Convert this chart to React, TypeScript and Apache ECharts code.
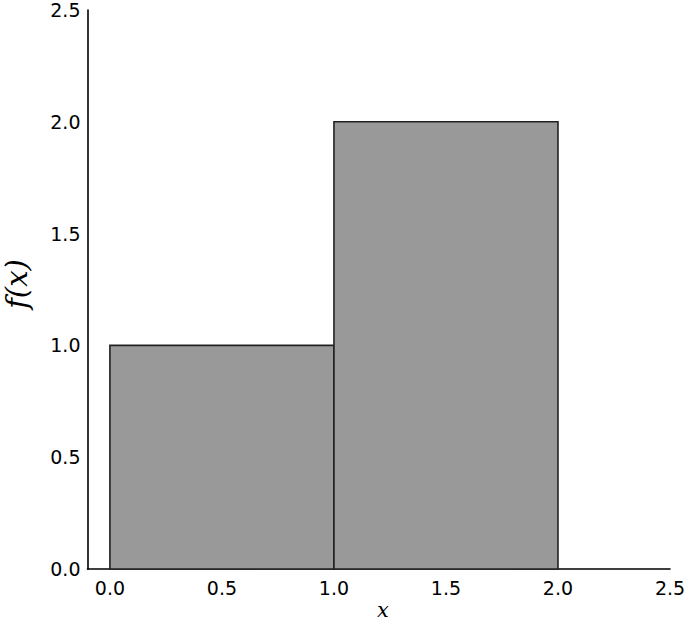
import React, { useEffect, useRef } from "react";
import * as echarts from "echarts";

const binStarts = [0, 1];
const binEnds = [1, 2];
const binHeights = [1, 2];
const xTicks = [0, 0.5, 1, 1.5, 2, 2.5];
const xTitle = "x";
const yTitle = "f(x)";

export default function App() {
  const ref = useRef<HTMLDivElement>(null);
  useEffect(() => {
    const chart = echarts.init(ref.current!, null, { renderer: "svg" });
    const data = binStarts.map((s, i) => [s, binEnds[i], binHeights[i]]);
    chart.setOption({
      animation: false,
      grid: { left: 87.5, right: 15, top: 10, bottom: 52, outerBoundsMode: "none", containLabel: false },
      graphic: [
        {
          type: "text",
          x: 383,
          y: 610,
          style: {
            text: xTitle,
            fontFamily: "DejaVu Serif",
            fontStyle: "italic",
            fontSize: 21,
            lineHeight: 20,
            fill: "#000",
            align: "center",
            verticalAlign: "middle",
          },
        },
        {
          type: "text",
          x: 17,
          y: 284,
          rotation: Math.PI / 2,
          style: {
            text: yTitle,
            fontFamily: "DejaVu Serif",
            fontStyle: "italic",
            fontSize: 29,
            fill: "#000",
            align: "center",
            verticalAlign: "middle",
          },
        },
      ],
      xAxis: {
        type: "value",
        min: -0.1,
        max: 2.5,
        axisLine: { show: true, onZero: false, lineStyle: { color: "#000", width: 1.6 } },
        axisTick: { show: false },
        splitLine: { show: false },
        axisLabel: {
          customValues: xTicks,
          formatter: (v: number) => v.toFixed(1),
          fontFamily: "DejaVu Sans",
          fontSize: 19,
          color: "#000",
          margin: 9,
        },
      },
      yAxis: {
        type: "value",
        min: 0,
        max: 2.5,
        interval: 0.5,
        axisLine: { show: true, onZero: false, lineStyle: { color: "#000", width: 1.6 } },
        axisTick: { show: false },
        splitLine: { show: false },
        axisLabel: {
          formatter: (v: number) => v.toFixed(1),
          fontFamily: "DejaVu Sans",
          fontSize: 19,
          color: "#000",
          margin: 7,
        },
      },
      series: [
        {
          type: "custom",
          data,
          encode: { x: [0, 1], y: 2 },
          renderItem: (params: any, api: any) => {
            const p0 = api.coord([api.value(0), 0]);
            const p1 = api.coord([api.value(1), api.value(2)]);
            return {
              type: "rect",
              shape: { x: p0[0], y: p1[1], width: p1[0] - p0[0], height: p0[1] - p1[1] },
              style: { fill: "#999999", stroke: "#222222", lineWidth: 1.6 },
            };
          },
        },
      ],
    });
    return () => chart.dispose();
  }, []);
  return <div ref={ref} style={{ width: 685, height: 621, position: "absolute", left: 0, top: 0 }} />;
}
